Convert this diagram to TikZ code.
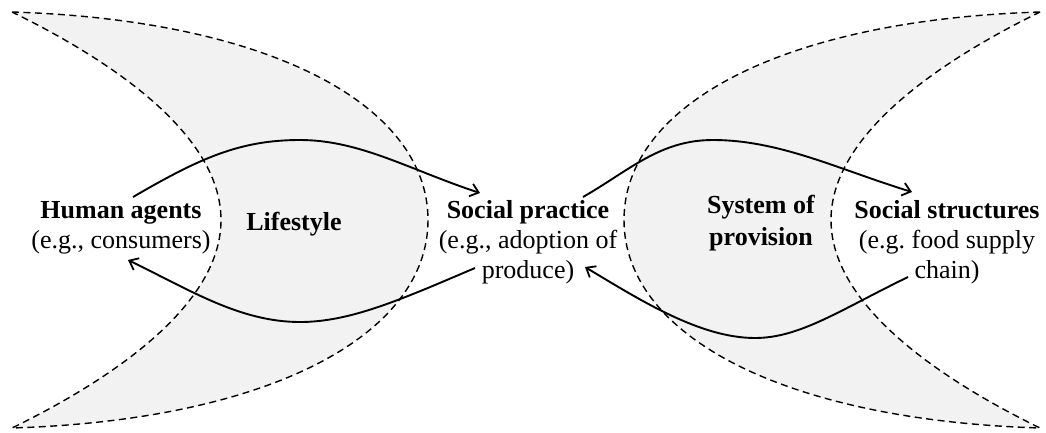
\documentclass[tikz,border=0pt]{standalone}
\usepackage{fontspec}
\setmainfont{Liberation Serif}
\usetikzlibrary{arrows.meta}
\definecolor{crescentgray}{HTML}{F2F2F2}
\frenchspacing
\begin{document}
\begin{tikzpicture}[x=1pt,y=-1pt,
  crescent/.style={fill=crescentgray, draw=black, line width=1.4pt, dash pattern=on 7pt off 4.5pt},
  txt/.style={font=\fontsize{26}{30}\selectfont, align=center, inner sep=0pt, anchor=base},
  flow/.style={line width=1.9pt, -{Straight Barb[length=8pt,width=13pt,line width=1.8pt]}}]
\useasboundingbox (0,0) rectangle (1046,432);

% left crescent: lifestyle
\path[crescent] (12,12) .. controls (270,20) and (428,105) .. (428,220)
  .. controls (428,335) and (270,420) .. (12,428)
  .. controls (100,385) and (221,310) .. (221,220)
  .. controls (221,130) and (100,55) .. (12,12) -- cycle;
% right crescent: system of provision
\path[crescent] (1040,12) .. controls (782,20) and (624,105) .. (624,220)
  .. controls (624,335) and (782,420) .. (1040,428)
  .. controls (952,385) and (831,310) .. (831,220)
  .. controls (831,130) and (952,55) .. (1040,12) -- cycle;

% labels (anchored at the baseline of their last line)
\node[txt] (human) at (121,248) {\textbf{Human agents}\\(e.g., consumers)};
\node[txt] (lifestyle) at (294,230) {\textbf{Lifestyle}};
\node[txt] (practice) at (528,278) {\textbf{Social practice}\\(e.g., adoption of\\produce)};
\node[txt] (system) at (761,245) {\textbf{System of}\\[2pt]\textbf{provision}};
\node[txt] (structures) at (947,278) {\textbf{Social structures}\\(e.g. food supply\\chain)};

% flows between agents, practice and structures
\draw[flow] ([shift={(12,-51)}]human.base)
  .. controls (200,158) and (240,140) .. (300,140)
  .. controls (360,140) and (410,170) .. ([shift={(-48,-85)}]practice.base);
\draw[flow] ([shift={(-53,-10)}]practice.base)
  .. controls (400,300) and (350,322) .. (300,322)
  .. controls (240,322) and (190,290) .. ([shift={(7,12)}]human.base);
\draw[flow] ([shift={(55,-81)}]practice.base)
  .. controls (630,170) and (660,140) .. (713,140)
  .. controls (780,140) and (840,170) .. ([shift={(-35,-86)}]structures.base);
\draw[flow] ([shift={(-39,-1)}]structures.base)
  .. controls (840,310) and (800,338) .. (755,338)
  .. controls (700,338) and (640,300) .. ([shift={(57,-11)}]practice.base);
\end{tikzpicture}
\end{document}
